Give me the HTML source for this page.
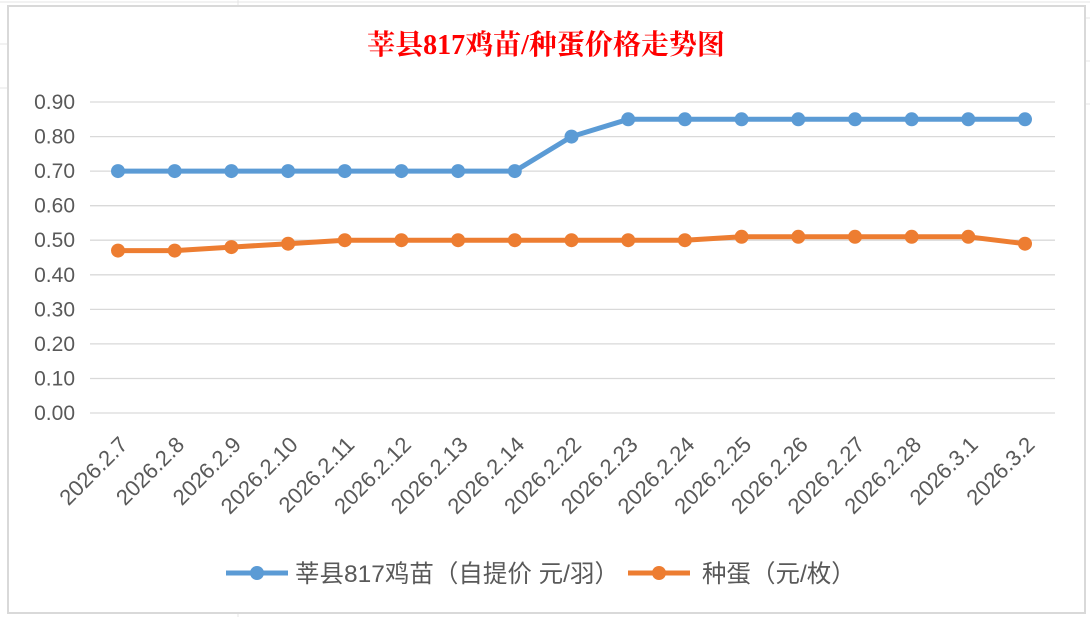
<!DOCTYPE html><html><head><meta charset="utf-8"><style>body{margin:0;background:#fff}svg{display:block}</style></head><body>
<svg width="1090" height="617" xmlns="http://www.w3.org/2000/svg" font-family="'Liberation Sans','Noto Sans CJK SC',sans-serif">
<rect width="1090" height="617" fill="#fff"/>
<g stroke="#e4e4e4" stroke-width="1"><line x1="0" y1="2" x2="1090" y2="2"/><line x1="238" y1="0" x2="238" y2="6"/><line x1="1085" y1="18" x2="1090" y2="18"/><line x1="1085" y1="61" x2="1090" y2="61"/><line x1="1085" y1="104" x2="1090" y2="104"/><line x1="0" y1="44" x2="8" y2="44"/><line x1="0" y1="88" x2="8" y2="88"/><line x1="238" y1="613" x2="238" y2="617"/></g>
<rect x="8" y="6" width="1077" height="607" fill="#fff" stroke="#d9d9d9" stroke-width="2"/>
<text x="546" y="54" text-anchor="middle" font-size="28" font-weight="bold" fill="#ff0000" font-family="'Liberation Serif','Noto Serif CJK SC',serif">莘县817鸡苗/种蛋价格走势图</text>
<g stroke="#d9d9d9" stroke-width="1.3">
<line x1="90" x2="1055" y1="102" y2="102"/><line x1="90" x2="1055" y1="136.6" y2="136.6"/><line x1="90" x2="1055" y1="171.1" y2="171.1"/><line x1="90" x2="1055" y1="205.7" y2="205.7"/><line x1="90" x2="1055" y1="240.2" y2="240.2"/><line x1="90" x2="1055" y1="274.8" y2="274.8"/><line x1="90" x2="1055" y1="309.4" y2="309.4"/><line x1="90" x2="1055" y1="343.9" y2="343.9"/><line x1="90" x2="1055" y1="378.5" y2="378.5"/><line x1="90" x2="1055" y1="413" y2="413"/></g>
<g font-size="21" fill="#595959" text-anchor="end">
<text x="75" y="109">0.90</text><text x="75" y="143.6">0.80</text><text x="75" y="178.1">0.70</text><text x="75" y="212.7">0.60</text><text x="75" y="247.2">0.50</text><text x="75" y="281.8">0.40</text><text x="75" y="316.4">0.30</text><text x="75" y="350.9">0.20</text><text x="75" y="385.5">0.10</text><text x="75" y="420">0.00</text></g>
<g font-size="22" fill="#595959" text-anchor="end">
<text transform="translate(129,446) rotate(-45)">2026.2.7</text>
<text transform="translate(185.7,446) rotate(-45)">2026.2.8</text>
<text transform="translate(242.4,446) rotate(-45)">2026.2.9</text>
<text transform="translate(299.1,446) rotate(-45)">2026.2.10</text>
<text transform="translate(355.8,446) rotate(-45)">2026.2.11</text>
<text transform="translate(412.4,446) rotate(-45)">2026.2.12</text>
<text transform="translate(469.1,446) rotate(-45)">2026.2.13</text>
<text transform="translate(525.8,446) rotate(-45)">2026.2.14</text>
<text transform="translate(582.5,446) rotate(-45)">2026.2.22</text>
<text transform="translate(639.2,446) rotate(-45)">2026.2.23</text>
<text transform="translate(695.9,446) rotate(-45)">2026.2.24</text>
<text transform="translate(752.6,446) rotate(-45)">2026.2.25</text>
<text transform="translate(809.3,446) rotate(-45)">2026.2.26</text>
<text transform="translate(866,446) rotate(-45)">2026.2.27</text>
<text transform="translate(922.7,446) rotate(-45)">2026.2.28</text>
<text transform="translate(979.3,446) rotate(-45)">2026.3.1</text>
<text transform="translate(1036,446) rotate(-45)">2026.3.2</text></g>
<polyline fill="none" stroke="#5b9bd5" stroke-width="5" stroke-linejoin="round" points="118,171.1 174.7,171.1 231.4,171.1 288.1,171.1 344.8,171.1 401.4,171.1 458.1,171.1 514.8,171.1 571.5,136.6 628.2,119.3 684.9,119.3 741.6,119.3 798.3,119.3 855,119.3 911.7,119.3 968.3,119.3 1025,119.3"/>
<g fill="#5b9bd5"><circle cx="118" cy="171.1" r="7"/><circle cx="174.7" cy="171.1" r="7"/><circle cx="231.4" cy="171.1" r="7"/><circle cx="288.1" cy="171.1" r="7"/><circle cx="344.8" cy="171.1" r="7"/><circle cx="401.4" cy="171.1" r="7"/><circle cx="458.1" cy="171.1" r="7"/><circle cx="514.8" cy="171.1" r="7"/><circle cx="571.5" cy="136.6" r="7"/><circle cx="628.2" cy="119.3" r="7"/><circle cx="684.9" cy="119.3" r="7"/><circle cx="741.6" cy="119.3" r="7"/><circle cx="798.3" cy="119.3" r="7"/><circle cx="855" cy="119.3" r="7"/><circle cx="911.7" cy="119.3" r="7"/><circle cx="968.3" cy="119.3" r="7"/><circle cx="1025" cy="119.3" r="7"/></g>
<polyline fill="none" stroke="#ed7d31" stroke-width="5" stroke-linejoin="round" points="118,250.6 174.7,250.6 231.4,247.1 288.1,243.7 344.8,240.2 401.4,240.2 458.1,240.2 514.8,240.2 571.5,240.2 628.2,240.2 684.9,240.2 741.6,236.8 798.3,236.8 855,236.8 911.7,236.8 968.3,236.8 1025,243.7"/>
<g fill="#ed7d31"><circle cx="118" cy="250.6" r="7"/><circle cx="174.7" cy="250.6" r="7"/><circle cx="231.4" cy="247.1" r="7"/><circle cx="288.1" cy="243.7" r="7"/><circle cx="344.8" cy="240.2" r="7"/><circle cx="401.4" cy="240.2" r="7"/><circle cx="458.1" cy="240.2" r="7"/><circle cx="514.8" cy="240.2" r="7"/><circle cx="571.5" cy="240.2" r="7"/><circle cx="628.2" cy="240.2" r="7"/><circle cx="684.9" cy="240.2" r="7"/><circle cx="741.6" cy="236.8" r="7"/><circle cx="798.3" cy="236.8" r="7"/><circle cx="855" cy="236.8" r="7"/><circle cx="911.7" cy="236.8" r="7"/><circle cx="968.3" cy="236.8" r="7"/><circle cx="1025" cy="243.7" r="7"/></g>
<line x1="226" y1="573" x2="288" y2="573" stroke="#5b9bd5" stroke-width="5"/><circle cx="257" cy="573" r="7" fill="#5b9bd5"/>
<text x="295" y="582" font-size="24.5" fill="#595959">莘县817鸡苗（自提价 元/羽）</text>
<line x1="628" y1="573" x2="690" y2="573" stroke="#ed7d31" stroke-width="5"/><circle cx="659" cy="573" r="7" fill="#ed7d31"/>
<text x="702" y="582" font-size="24.5" fill="#595959">种蛋（元/枚）</text>
</svg></body></html>
